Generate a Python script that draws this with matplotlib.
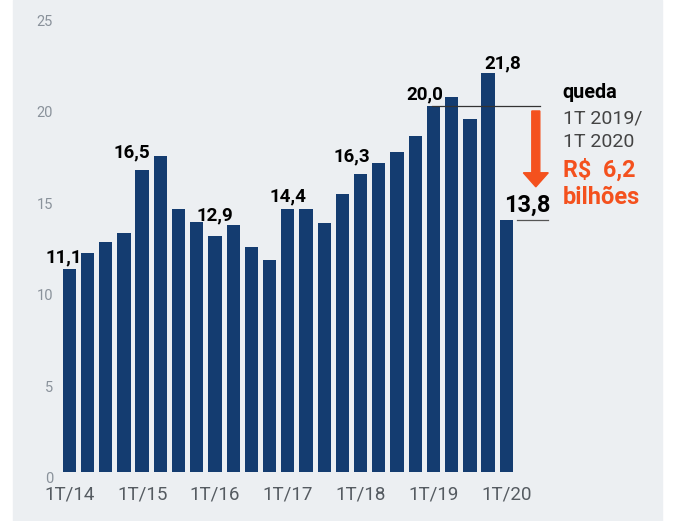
import matplotlib.pyplot as plt
from matplotlib.patches import Rectangle

plt.rcParams['font.family'] = ['Roboto', 'DejaVu Sans']

# lucro trimestral, R$ bilhões, 1T/14 .. 1T/20
quarters = ['1T/14', '2T/14', '3T/14', '4T/14',
            '1T/15', '2T/15', '3T/15', '4T/15',
            '1T/16', '2T/16', '3T/16', '4T/16',
            '1T/17', '2T/17', '3T/17', '4T/17',
            '1T/18', '2T/18', '3T/18', '4T/18',
            '1T/19', '2T/19', '3T/19', '4T/19',
            '1T/20']
values = [11.1, 12.0, 12.6, 13.1,
          16.5, 17.3, 14.4, 13.7,
          12.9, 13.5, 12.3, 11.6,
          14.4, 14.4, 13.6, 15.2,
          16.3, 16.9, 17.5, 18.4,
          20.0, 20.5, 19.3, 21.8,
          13.8]
yticks = [0, 5, 10, 15, 20, 25]
# which bars get a value label, and (dx, dy_px, size) for each
labelled = [0, 4, 8, 12, 16, 20, 23, 24]
label_pos = {0: (-0.32, 7, 13.5), 4: (-0.57, 13, 13.5), 8: (0.0, 16, 13.5),
             12: (0.0, 7, 13.5), 16: (-0.5, 13, 13.5), 20: (-0.48, 7, 13.5),
             23: (0.78, 5, 13.5), 24: (1.13, 8, 17)}

navy = '#143c70'
orange = '#f4511e'
panel = '#eceff2'

W, H = 684, 521
fig = plt.figure(figsize=(W / 100, H / 100), dpi=100)
fig.patch.set_facecolor('white')
fig.patches.append(Rectangle((13 / W, 0), (662 - 13) / W, 1,
                             transform=fig.transFigure, color=panel, zorder=-10))

ax = fig.add_axes([55 / W, (H - 472) / H, (662 - 55) / W, (472 - 15) / H])
ax.set_facecolor('none')
x = list(range(len(values)))
ax.bar(x, values, width=0.73, color=navy, zorder=2)
ax.set_xlim(-0.785, 32.55)
ax.set_ylim(0, 25)
px_per_unit = 18.28

for s in ax.spines.values():
    s.set_visible(False)

ax.set_yticks(yticks)
ax.set_yticklabels([str(t) for t in yticks])
ax.tick_params(axis='y', length=0, pad=1.5, labelsize=10.5, labelcolor='#8a929b')
for lbl in ax.get_yticklabels():
    lbl.set_va('top')

ax.set_xticks(x[::4])
ax.set_xticklabels(quarters[::4])
ax.tick_params(axis='x', length=0, pad=9.5, labelsize=13.5, labelcolor='#555b61')

for i in labelled:
    dx, dy, fs = label_pos[i]
    ax.text(i + dx, values[i] + dy / px_per_unit, f'{values[i]:.1f}'.replace('.', ','),
            ha='center', va='baseline', fontsize=fs, fontweight='bold',
            color='black', zorder=3)

# linhas de referência 1T19 -> 1T20
ax.plot([19.92, 25.85], [values[20], values[20]], color='#333333', lw=0.9, zorder=3,
        clip_on=False)
ax.plot([24.57, 26.29], [values[24], values[24]], color='#555555', lw=0.9, zorder=3,
        clip_on=False)

ax.arrow(25.62, 19.75, 0, -(19.75 - 15.6), width=0.44, head_width=1.37,
         head_length=0.77, length_includes_head=True, color=orange, zorder=3)

tx = 27.1
ax.text(tx, 20.46, 'queda', fontsize=14.3, fontweight='bold', color='black', va='baseline')
ax.text(tx, 19.04, '1T 2019/', fontsize=14, color='#444444', va='baseline')
ax.text(tx, 17.76, '1T 2020', fontsize=14, color='#444444', va='baseline')
ax.text(tx, 16.15, 'R$  6,2', fontsize=16.8, fontweight='bold', color=orange, va='baseline')
ax.text(tx, 14.66, 'bilhões', fontsize=17, fontweight='bold', color=orange, va='baseline')

fig.savefig('out.png', dpi=100)
